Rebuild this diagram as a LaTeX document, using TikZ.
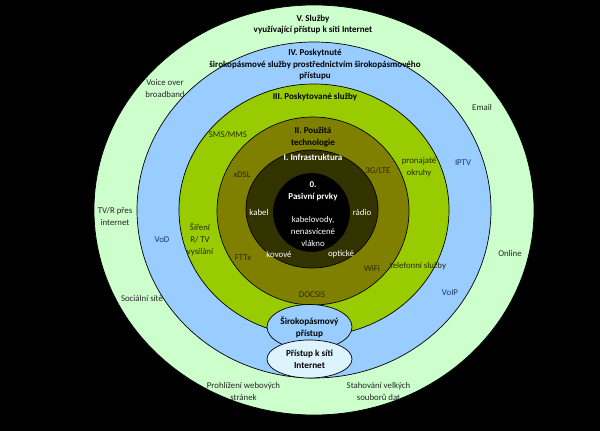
\documentclass[tikz,border=0pt]{standalone}
\usepackage{fontspec}
\setmainfont{Carlito}
\usetikzlibrary{shapes.geometric}
\definecolor{ringV}{HTML}{CCFFCC}
\definecolor{ringIV}{HTML}{99CCFF}
\definecolor{ringIII}{HTML}{99CC00}
\definecolor{ringII}{HTML}{808000}
\definecolor{ringI}{HTML}{333300}
\definecolor{ringO}{HTML}{000000}
\definecolor{accfill}{HTML}{DDF4FF}
\definecolor{txtdark}{HTML}{262626}
\definecolor{txtolive}{HTML}{2A2A00}
\definecolor{txtblue}{HTML}{1F3864}
\tikzset{
  ring/.style={draw=black, line width=0.7pt},
  lbl/.style={font=\fontsize{8.8}{12}\selectfont, align=center, inner sep=0pt, text=txtdark},
  ttl/.style={lbl, font=\fontsize{9}{11.5}\selectfont\bfseries, text=black},
  wlbl/.style={lbl, text=white},
  wttl/.style={ttl, text=white},
  olbl/.style={lbl, text=txtolive},
  blbl/.style={lbl, text=txtblue},
  accbox/.style={ellipse, draw=black, line width=0.7pt, inner sep=0pt, font=\fontsize{9.2}{12}\selectfont\bfseries, align=center}
}
\begin{document}
\begin{tikzpicture}[x=1pt,y=-1pt]
\useasboundingbox (0,0) rectangle (600,431);
\fill[black] (0,0) rectangle (600,431);
% rings
\filldraw[ring, fill=ringV]   (314,210) ellipse [x radius=220pt, y radius=205pt];
\filldraw[ring, fill=ringIV]  (314,210) ellipse [x radius=177pt, y radius=168pt];
\filldraw[ring, fill=ringIII] (314,210) ellipse [x radius=135pt, y radius=126pt];
\filldraw[ring, fill=ringII]  (313,211) ellipse [x radius=96pt, y radius=94pt];
\filldraw[ring, fill=ringI]   (312,209) ellipse [x radius=66pt, y radius=59pt];
\filldraw[ring, fill=ringO]   (311.5,212.5) ellipse [x radius=38pt, y radius=39pt];
% access ellipses
\node[accbox, fill=ringIV, minimum width=85pt, minimum height=45pt] (bb) at (309.5,327) {Širokopásmový\\přístup};
\node[accbox, fill=accfill, minimum width=85pt, minimum height=38pt] (net) at (309.5,359) {Přístup k síti\\Internet};
% ring V
\node[ttl] (t5) at (313,24.5) {V. Služby\\využívající přístup k síti Internet};
\node[lbl] (vob) at (165,88.5) {Voice over\\broadband};
\node[lbl] (email) at (482,107) {Email};
\node[lbl] (tvr) at (115,216) {TV/R přes\\internet};
\node[lbl] (online) at (510,253) {Online};
\node[lbl] (soc) at (142,298) {Sociální sítě};
\node[lbl] (web) at (243.5,391) {Prohlížení webových\\stránek};
\node[lbl] (dl) at (378.5,391) {Stahování velkých\\souborů dat};
% ring IV
\node[ttl] (t4) at (315,65) {IV. Poskytnuté\\širokopásmové služby prostřednictvím širokopásmového\\přístupu};
\node[blbl] (vod) at (162,240) {VoD};
\node[blbl] (iptv) at (463,163) {IPTV};
\node[blbl] (voip) at (450,293) {VoIP};
% ring III
\node[ttl] (t3) at (315,97) {III. Poskytované služby};
\node[olbl] (sms) at (228,135) {SMS/MMS};
\node[olbl] (okr) at (419,167.5) {pronajaté\\okruhy};
\node[olbl] (sir) at (200,240) {Šíření\\R/ TV\\vysílání};
\node[olbl] (tel) at (418,266) {telefonní služby};
% ring II
\node[ttl, text=black] (t2) at (313,137) {II. Použitá\\technologie};
\node[olbl] (xdsl) at (242,175) {xDSL};
\node[olbl] (lte) at (378,171) {3G/LTE};
\node[olbl] (fttx) at (243,258) {FTTx};
\node[olbl] (wifi) at (372,268) {WiFi};
\node[olbl] (docsis) at (312,295) {DOCSIS};
% ring I
\node[wttl] (t1) at (313,157) {I. Infrastruktura};
\node[wlbl] (kabel) at (259,212) {kabel};
\node[wlbl] (radio) at (362,212) {rádio};
\node[wlbl] (kov) at (279,254) {kovové};
\node[wlbl] (opt) at (341,254) {optické};
% core
\node[wttl] (t0) at (313,191.5) {0.\\Pasivní prvky};
\node[wlbl] (kv) at (313,231) {kabelovody,\\nenasvícené\\vlákno};
\end{tikzpicture}
\end{document}
